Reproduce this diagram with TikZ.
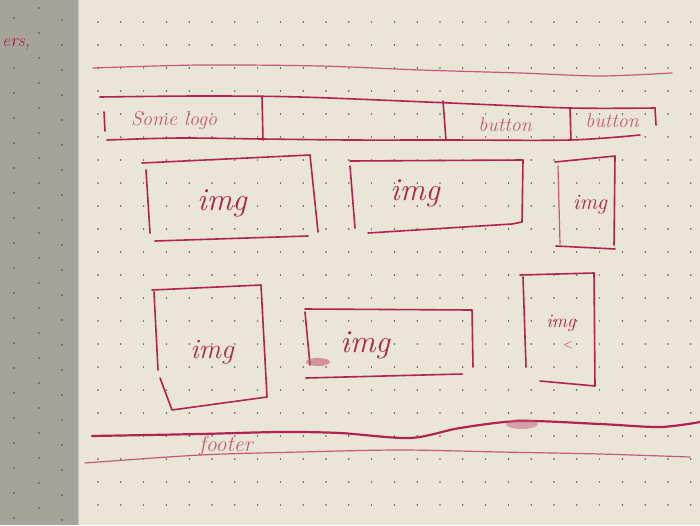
\documentclass[tikz,border=0pt]{standalone}
\usepackage{tikz}
\definecolor{paper}{HTML}{E9E5D7}
\definecolor{leftpage}{HTML}{A6A39A}
\definecolor{ink}{HTML}{B3234F}
\definecolor{inklight}{HTML}{C65A78}
\definecolor{dotc}{HTML}{5A5750}
\tikzset{
  pen/.style={draw=ink, line width=1.6pt, line cap=round, line join=round},
  thinpen/.style={draw=inklight, line width=1.2pt, line cap=round, line join=round},
  hand/.style={text=ink, font=\itshape\fontsize{32}{32}\selectfont, inner sep=0pt},
  smallhand/.style={text=inklight, font=\itshape\fontsize{20}{20}\selectfont, inner sep=0pt},
}
\begin{document}
\begin{tikzpicture}[x=1pt,y=-1pt]
\useasboundingbox (0,0) rectangle (700,525);
% pages
\fill[leftpage] (0,0) rectangle (78,525);
\fill[paper] (78,0) rectangle (700,525);
\fill[black!35,opacity=0.5] (76,0) rectangle (79,525);
% dots right page
\foreach \i in {0,...,26}{
  \foreach \j in {0,...,22}{
    \fill[dotc] ({98+22.8*\i},{22+23*\j}) circle (0.85pt);
  }
}
% dots left page
\foreach \j in {0,...,21}{
  \fill[black!70] (14,{18+25*\j}) circle (0.9pt);
  \fill[black!70] (39,{8+25*\j}) circle (0.9pt);
  \fill[black!70] (62,{20+25*\j}) circle (0.9pt);
}
% left page scribble
\node[text=ink, font=\itshape\fontsize{18}{18}\selectfont, inner sep=0pt, anchor=west] (lefttext) at (2,44) {ers,};

% top line
\draw[thinpen] plot[smooth] coordinates {(93,68) (200,65) (320,66) (420,70) (520,73) (600,76) (672,73)};

% nav bar
\draw[pen] plot[smooth] coordinates {(100,97) (200,96) (300,97) (450,103) (570,108) (655,108)};
\draw[pen] plot[smooth] coordinates {(107,140) (180,138) (262,139) (350,140) (445,140) (570,140) (640,135)};
\draw[pen] (104,112) -- (105,131);
\draw[pen] (262,97) -- (263,140);
\draw[pen] (443,101) -- (446,140);
\draw[pen] (570,108) -- (571,140);
\draw[pen] (655,108) -- (656,125);
\node[smallhand] (logo) at (174,120) {Some logo};
\node[smallhand] (btn1) at (505,125) {button};
\node[smallhand] (btn2) at (612,121) {button};

% row 1
\draw[pen] (142,163) -- (310,155) -- (318,232);
\draw[pen] (155,241) -- (308,236);
\draw[pen] (146,170) -- (150,233);
\node[hand] (img1) at (222,203) {img};

\draw[pen] (350,161) -- (523,160) -- (522,222) -- (512,224);
\draw[pen] (368,233) -- (512,224);
\draw[pen] (350,166) -- (355,228);
\node[hand] (img2) at (415,193) {img};

\draw[pen] (555,162) -- (615,156) -- (614,245);
\draw[pen] (556,246) -- (615,249);
\draw[thinpen] (558,166) -- (560,244);
\node[hand, font=\itshape\fontsize{22}{22}\selectfont] (img3) at (590,205) {img};

% row 2
\draw[pen] (152,290) -- (261,285) -- (267,397) -- (172,410) -- (160,378);
\draw[pen] (154,292) -- (158,370);
\node[hand, font=\itshape\fontsize{28}{28}\selectfont] (img4) at (212,352) {img};

\draw[pen] (305,309) -- (472,310) -- (473,367);
\draw[pen] (305,312) -- (310,365);
\draw[pen] (306,378) -- (462,374);
\fill[inklight,opacity=0.6] (318,362) ellipse (12pt and 4pt);
\node[hand] (img5) at (365,345) {img};

\draw[pen] (520,275) -- (594,273) -- (595,386) -- (540,381);
\draw[pen] (523,277) -- (526,367);
\node[hand, font=\itshape\fontsize{19}{19}\selectfont] (img6) at (561,323) {img};
\node[hand, font=\fontsize{13}{13}\selectfont] (lt) at (568,345) {<};

% footer
\draw[pen, line width=2.2pt] plot[smooth] coordinates {(92,436) (200,434) (280,432) (340,433) (410,438) (460,428) (520,421) (600,424) (660,427) (700,422)};
\fill[inklight,opacity=0.5] (522,424) ellipse (16pt and 5pt);
\draw[thinpen] plot[smooth] coordinates {(85,463) (200,455) (300,452) (400,450) (500,452) (600,454) (690,457)};
\node[smallhand, font=\itshape\fontsize{22}{22}\selectfont] (footer) at (226,446) {footer};
\end{tikzpicture}
\end{document}
